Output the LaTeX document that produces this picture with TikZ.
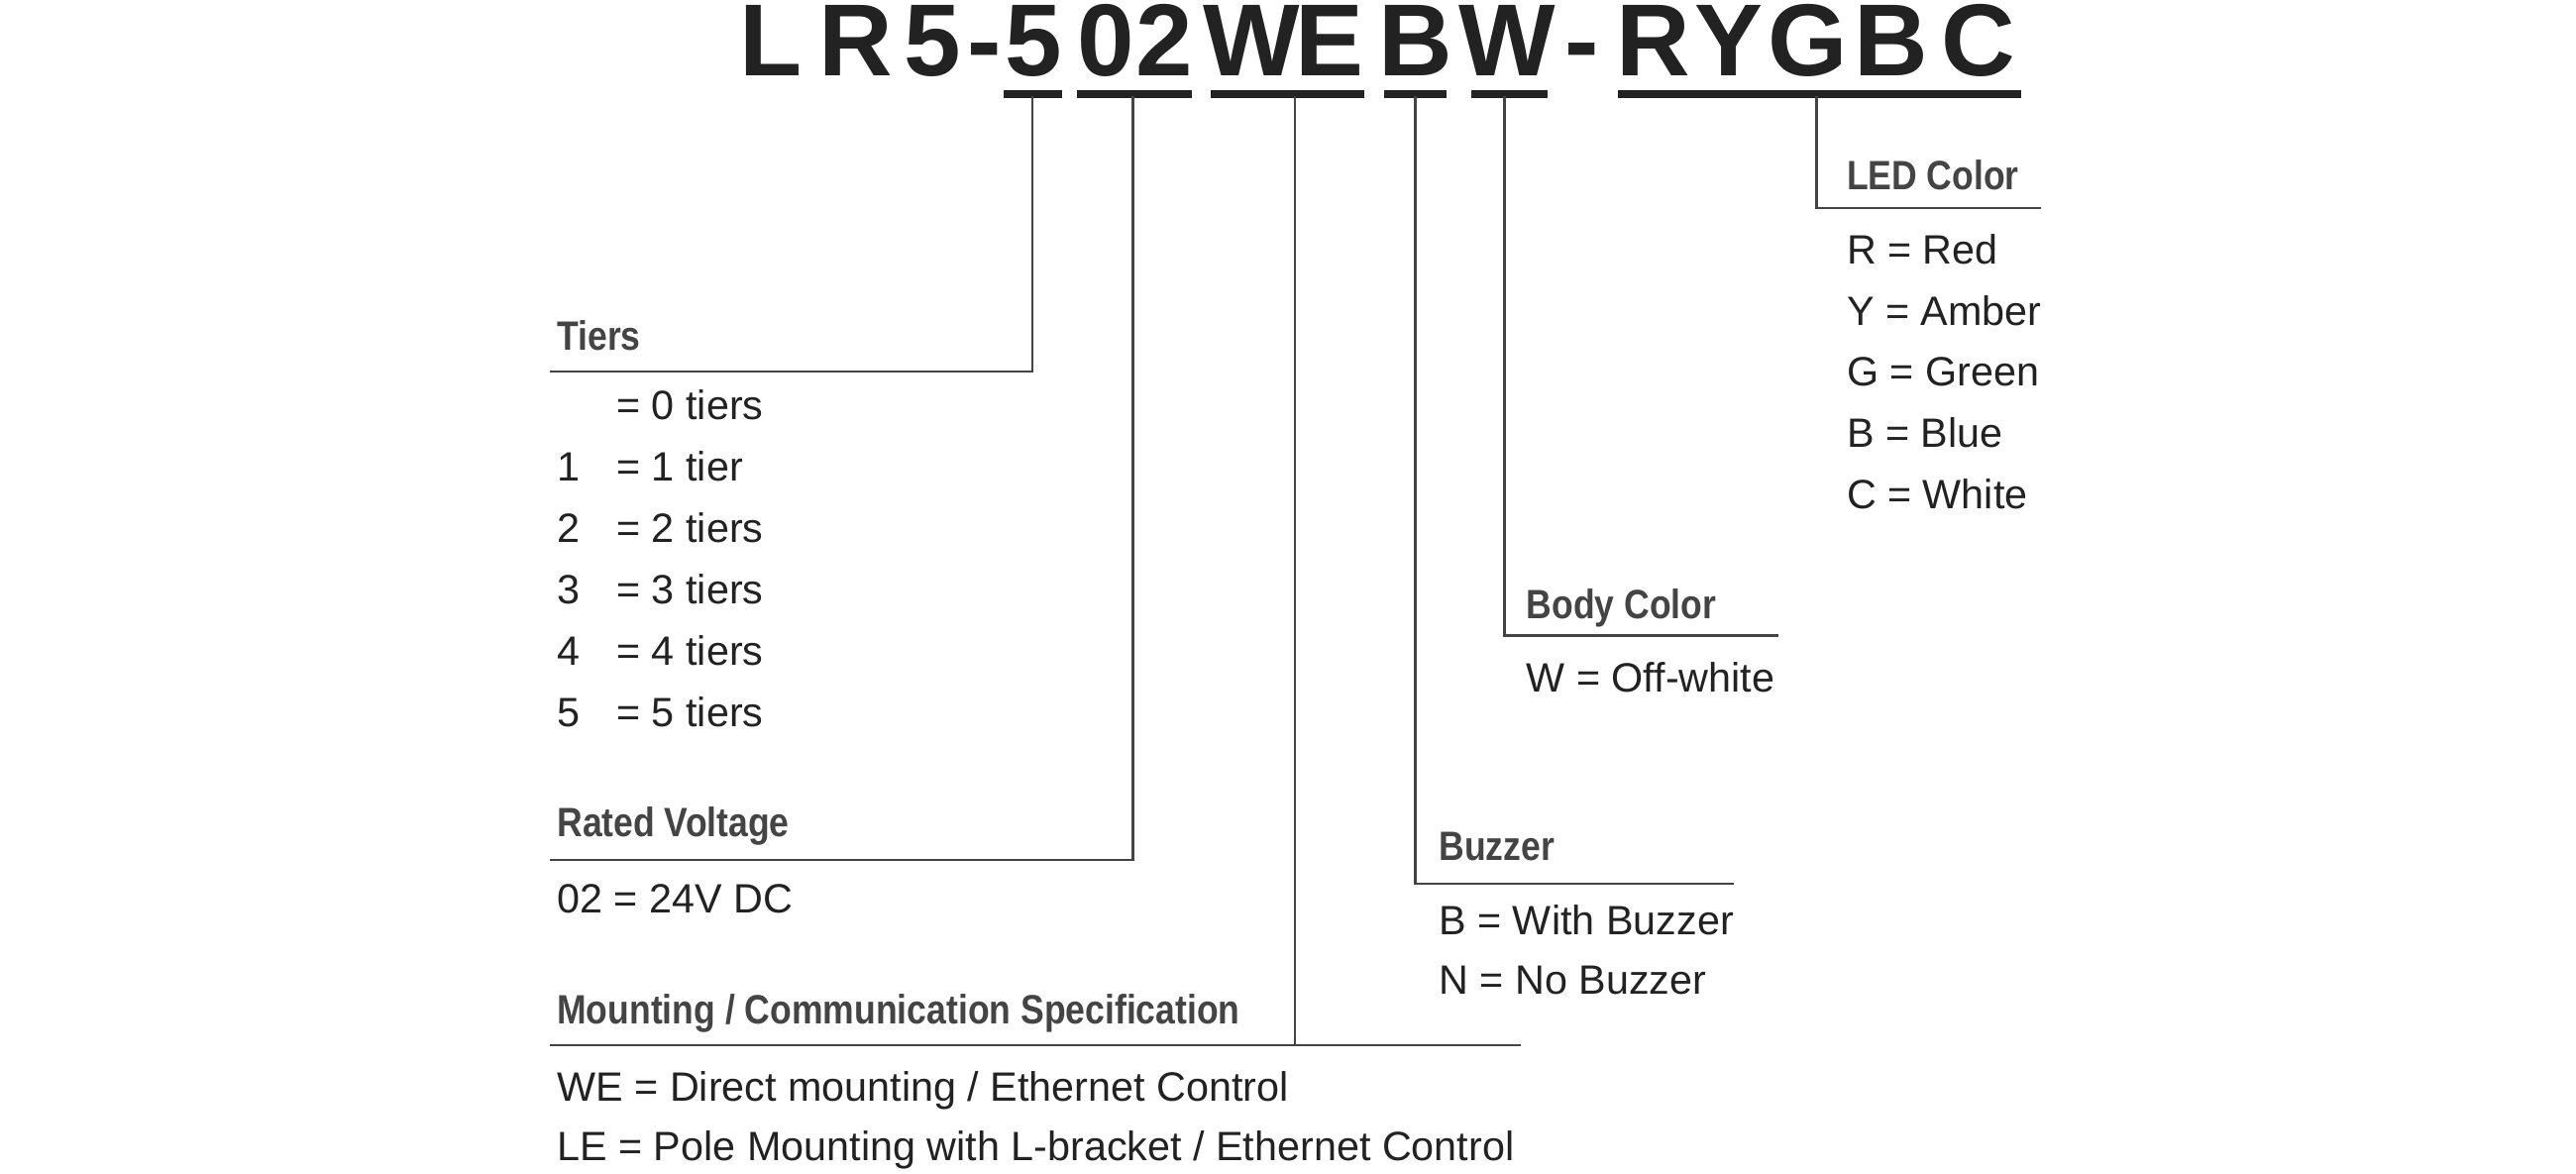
\documentclass[tikz,border=0pt]{standalone}
\usepackage{fontspec}
\setmainfont{Liberation Sans}
\newfontfamily\headfont[FakeStretch=0.86]{Liberation Sans}
\usetikzlibrary{positioning}
\definecolor{ink}{HTML}{222222}
\definecolor{headgray}{HTML}{444444}
\tikzset{
  code/.style={inner sep=0pt, anchor=base, font=\fontsize{31}{31}\selectfont\bfseries, text=ink},
  head/.style={inner sep=0pt, anchor=base west, font=\headfont\fontsize{12.4}{12.4}\selectfont\bfseries, text=headgray},
  item/.style={inner sep=0pt, anchor=base west, font=\fontsize{12.4}{12.4}\selectfont, text=ink},
  lead/.style={draw=headgray, line width=0.7pt},
  bar/.style={draw=ink, line width=2.2pt}
}
\begin{document}
\begin{tikzpicture}[x=0.5pt,y=-0.5pt]
	\useasboundingbox (0,0) rectangle (1560,711);

	% part number
	\node[code] (c1) at (467,46) {L};
	\node[code] (c2) at (518,46) {R};
	\node[code] (c3) at (565,46) {5};
	\node[code] (c4) at (596,46) {-};
	\node[code] (c5) at (626,46) {5};
	\node[code] (c6) at (670,46) {0};
	\node[code] (c7) at (705,46) {2};
	\node[code] (c8) at (758,46) {W};
	\node[code] (c9) at (805,46) {E};
	\node[code] (c10) at (857,46) {B};
	\node[code] (c11) at (913,46) {W};
	\node[code] (c12) at (958,46) {-};
	\node[code] (c13) at (1001,46) {R};
	\node[code] (c14) at (1047,46) {Y};
	\node[code] (c15) at (1095,46) {G};
	\node[code] (c16) at (1145,46) {B};
	\node[code] (c17) at (1198,46) {C};

	% underlines
	\draw[bar] (608,57) -- (643,57);
	\draw[bar] (652,57) -- (722,57);
	\draw[bar] (733,57) -- (826,57);
	\draw[bar] (838,57) -- (876,57);
	\draw[bar] (891,57) -- (937,57);
	\draw[bar] (980,57) -- (1224,57);

	% headings
	\node[head] (tiers) at (337,212) {Tiers};
	\node[head] (volt) at (337,507) {Rated Voltage};
	\node[head] (mount) at (337,620) {Mounting / Communication Specification};
	\node[head] (buzz) at (871,521) {Buzzer};
	\node[head] (body) at (924,375) {Body Color};
	\node[head] (led) at (1118,115) {LED Color};

	% leader lines
	\draw[lead] (625,58) |- (333,225);
	\draw[lead] (686,58) |- (333,521);
	\draw[lead] (784,58) -- (784,633);
	\draw[lead] (333,633) -- (921,633);
	\draw[lead] (857,58) |- (1050,535);
	\draw[lead] (911,58) |- (1077,385);
	\draw[lead] (1100,58) |- (1236,126);

	% tiers
	\foreach \n/\t [count=\i] in {/0 tiers,1/1 tier,2/2 tiers,3/3 tiers,4/4 tiers,5/5 tiers} {
		\node[item] (tn\i) at (337,{246+37.2*(\i-1)+8}) {\n};
		\node[item] (tv\i) at (373,{246+37.2*(\i-1)+8}) {=\ \t};
	}

	% rated voltage
	\node[item] (v1) at (337,553) {02 = 24V DC};

	% mounting
	\node[item] (m1) at (337,667) {WE = Direct mounting / Ethernet Control};
	\node[item] (m2) at (337,703) {LE = Pole Mounting with L-bracket / Ethernet Control};

	% buzzer
	\node[item] (b1) at (871,566) {B = With Buzzer};
	\node[item] (b2) at (871,602) {N = No Buzzer};

	% body color
	\node[item] (w1) at (924,419) {W = Off-white};

	% led colors
	\foreach \t [count=\i] in {R = Red,Y = Amber,G = Green,B = Blue,C = White}
		\node[item] (l\i) at (1118,{160+37*(\i-1)}) {\t};
\end{tikzpicture}
\end{document}
